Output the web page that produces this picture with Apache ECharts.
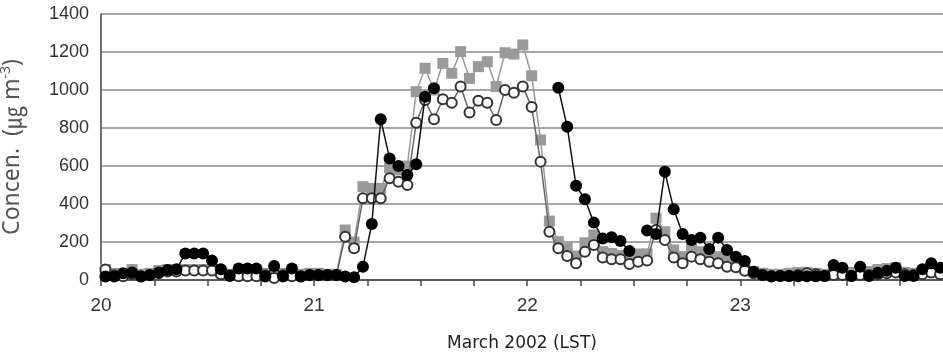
<!DOCTYPE html>
<html>
<head>
<meta charset="utf-8">
<script src="https://cdn.jsdelivr.net/npm/echarts@6/dist/echarts.min.js"></script>
<style>
  html, body { margin: 0; padding: 0; background: #fff; }
  #chart { width: 943px; height: 354px; }
</style>
</head>
<body>
<div id="chart"></div>
<script>
// hourly values, March 20 00h .. March 23 22h
var blackVals = [
  18,18,35,39,18,26,39,53,56,140,140,140,102,56,21,61,61,61,18,74,18,61,18,26,
  26,26,26,18,14,70,295,846,640,600,553,609,965,1009,null,null,null,null,null,null,null,null,null,null,
  null,null,null,1012,807,496,425,302,219,225,205,153,null,260,242,570,372,242,211,223,163,223,158,123,
  100,44,26,18,21,21,20,20,20,21,79,65,21,70,21,38,49,65,21,21,56,88,65
];
var grayVals = [
  55,35,30,55,30,35,50,55,55,55,55,55,55,45,30,35,30,30,35,30,35,30,30,35,
  35,30,30,263,200,491,482,482,590,580,600,991,1114,1000,1140,1088,1202,1061,1123,1149,1018,1196,1189,1237,
  1075,737,310,202,167,126,196,237,149,140,130,126,137,137,325,254,158,123,167,149,132,123,114,96,
  79,44,35,30,30,35,40,40,35,30,35,35,40,40,45,55,60,65,40,35,50,60,45
];
var whiteVals = [
  55,25,20,30,20,25,35,45,45,50,50,50,50,30,25,20,20,20,25,10,25,20,20,25,
  25,25,25,228,167,430,430,430,535,517,500,828,947,846,951,933,1018,881,944,933,842,1000,986,1018,
  910,623,254,167,126,88,149,184,119,109,109,84,96,102,263,211,119,88,123,109,96,88,70,67,
  49,35,26,21,21,21,26,35,30,21,26,26,21,26,26,30,35,40,30,26,30,40,30
];
var dayLabels = [20, 21, 22, 23];
var yTicks = [0, 200, 400, 600, 800, 1000, 1200, 1400];

function toPoints(vals) {
  return vals.map(function (v, h) {
    return [20 + (h + 0.5) / 24, v];
  });
}

var chart = echarts.init(document.getElementById('chart'));
var font = '"Liberation Sans", Arial, sans-serif';

var option = {
  animation: false,
  grid: { left: 101, right: 0, top: 14, bottom: 74, containLabel: false, outerBoundsMode: 'none' },
  xAxis: {
    type: 'value',
    min: 20,
    max: 23.951,
    interval: 0.25,
    name: 'March 2002 (LST)',
    nameLocation: 'middle',
    nameGap: 55,
    nameTextStyle: { color: '#222', fontSize: 17, fontFamily: '"DejaVu Sans", sans-serif' },
    axisLine: { show: true, lineStyle: { color: '#444', width: 1.5 } },
    axisTick: { show: true, length: 6, lineStyle: { color: '#444', width: 1.5 } },
    axisLabel: {
      color: '#333', fontSize: 19, fontFamily: font, margin: 16,
      showMaxLabel: false,
      formatter: function (v) {
        var r = Math.round(v);
        return (Math.abs(v - r) < 1e-6 && dayLabels.indexOf(r) >= 0) ? String(r) : '';
      }
    },
    splitLine: { show: false }
  },
  yAxis: {
    type: 'value',
    min: yTicks[0],
    max: yTicks[yTicks.length - 1],
    interval: 200,
    name: '{a|Concen.  (}{u|㎍}{a| m}{s|-3}{a|)}',
    nameLocation: 'middle',
    nameGap: 76,
    nameRotate: 90,
    nameTextStyle: {
      rich: {
        a: { color: '#555', fontSize: 23, fontFamily: '"Noto Sans", "DejaVu Sans", sans-serif' },
        u: { color: '#555', fontSize: 23, fontFamily: '"Noto Sans CJK KR", sans-serif' },
        s: { color: '#555', fontSize: 14, fontFamily: '"Noto Sans", sans-serif', verticalAlign: 'top', padding: [0, 0, 12, 0] }
      }
    },
    axisLine: { show: true, lineStyle: { color: '#444', width: 1.5 } },
    axisTick: { show: false },
    axisLabel: {
      color: '#333', fontSize: 18, fontFamily: font, margin: 12,
      formatter: function (v) { return String(v); }
    },
    splitLine: { lineStyle: { color: '#888', width: 1.5 } }
  },
  series: [
    {
      name: 'gray',
      type: 'line',
      data: toPoints(grayVals),
      symbol: 'rect',
      symbolSize: 11,
      connectNulls: false,
      lineStyle: { color: '#9a9a9a', width: 1.5 },
      itemStyle: { color: '#9a9a9a', borderWidth: 0 },
      z: 2
    },
    {
      name: 'white',
      type: 'line',
      data: toPoints(whiteVals),
      symbol: 'circle',
      symbolSize: 10,
      lineStyle: { color: '#666', width: 1.5 },
      itemStyle: { color: '#fff', borderColor: '#333', borderWidth: 2 },
      z: 3
    },
    {
      name: 'black',
      type: 'line',
      data: toPoints(blackVals),
      symbol: 'circle',
      symbolSize: 12,
      connectNulls: false,
      lineStyle: { color: '#111', width: 1.5 },
      itemStyle: { color: '#000', borderWidth: 0 },
      z: 4
    }
  ]
};
option && chart.setOption(option);
</script>
</body>
</html>
